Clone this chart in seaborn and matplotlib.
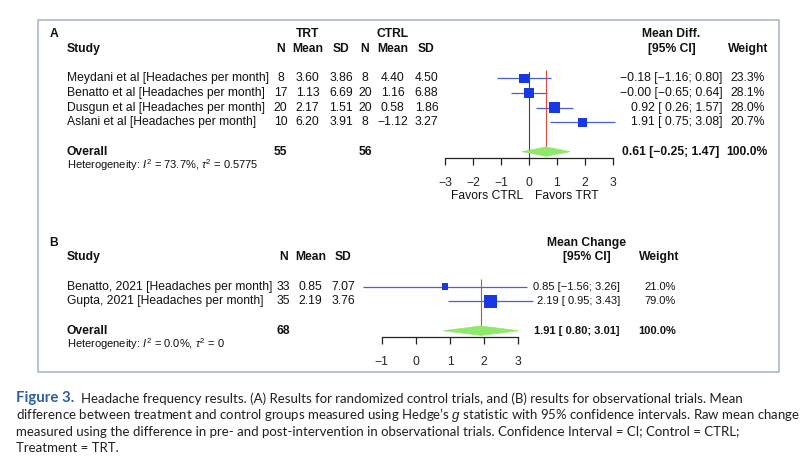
import numpy as np
import pandas as pd
import matplotlib
matplotlib.use("Agg")
import matplotlib.pyplot as plt
import matplotlib.transforms as mtransforms
from matplotlib.patches import Rectangle, Polygon
import seaborn as sns

# ---------------- Data: panel A (randomized control trials) ----------------
a_studies = ["Meydani et al [Headaches per month]",
             "Benatto et al [Headaches per month]",
             "Dusgun et al [Headaches per month]",
             "Aslani et al [Headaches per month]"]
a_n_trt = [8, 17, 20, 10]
a_mean_trt = [3.60, 1.13, 2.17, 6.20]
a_sd_trt = [3.86, 6.69, 1.51, 3.91]
a_n_ctrl = [8, 20, 20, 8]
a_mean_ctrl = [4.40, 1.16, 0.58, -1.12]
a_sd_ctrl = [4.50, 6.88, 1.86, 3.27]
a_est = [-0.18, -0.00, 0.92, 1.91]
a_lo = [-1.16, -0.65, 0.26, 0.75]
a_hi = [0.80, 0.64, 1.57, 3.08]
a_weight = [23.3, 28.1, 28.0, 20.7]
a_overall = [0.61, -0.25, 1.47]          # estimate, lower, upper
a_total_n = [55, 56]
a_het = r"Heterogeneity: $I^2$ = 73.7%, $\tau^2$ = 0.5775"
a_ticks = [-3, -2, -1, 0, 1, 2, 3]

# ---------------- Data: panel B (observational trials) ----------------
b_studies = ["Benatto, 2021 [Headaches per month]",
             "Gupta, 2021 [Headaches per month]"]
b_n = [33, 35]
b_mean = [0.85, 2.19]
b_sd = [7.07, 3.76]
b_est = [0.85, 2.19]
b_lo = [-1.56, 0.95]
b_hi = [3.26, 3.43]
b_weight = [21.0, 79.0]
b_overall = [1.91, 0.80, 3.01]
b_total_n = [68]
b_het = r"Heterogeneity: $I^2$ = 0.0%, $\tau^2$ = 0"
b_ticks = [-1, 0, 1, 2, 3]

caption_lines = [
    "Headache frequency results. (A) Results for randomized control trials, and (B) results for observational trials. Mean",
    "difference between treatment and control groups measured using Hedge\u2019s $\\mathit{g}$ statistic with 95% confidence intervals. Raw mean change",
    "measured using the difference in pre- and post-intervention in observational trials. Confidence Interval = CI; Control = CTRL;",
    "Treatment = TRT.",
]

# ---------------- Style ----------------
sns.set_style("white")
plt.rcParams["font.family"] = ["Liberation Sans", "DejaVu Sans"]
plt.rcParams["mathtext.fontset"] = "custom"
plt.rcParams["mathtext.rm"] = "Liberation Sans"
plt.rcParams["mathtext.it"] = "Liberation Sans:italic"
plt.rcParams["mathtext.bf"] = "Liberation Sans:bold"

W, H = 812, 472
FS = 8.7
FS_HET = 8.0
FS_B = 8.0          # panel B right-hand columns are rendered narrower
ROW = 14.67
SQ_COL = "#1738e3"
CI_COL = "#4a5fd4"
RED = "#d9493f"
DIAM = "#8fe86c"

fig = plt.figure(figsize=(W / 100, H / 100), dpi=100)
fig.patch.set_facecolor("white")

pix = mtransforms.Affine2D().scale(1 / W, 1 / H) + fig.transFigure


def fmt(v):
    return f"{v:.2f}".replace("-", "\u2212")


def ci_txt(e, l, h):
    return fmt(e) + " [" + f"{l:5.2f}".replace("-", "\u2212") + "; " + fmt(h) + "]"


def forest_axes(x_left, x_right, xmin, xmax, y_row0, row_top, row_bottom):
    top_px = y_row0 + row_top * ROW
    bot_px = y_row0 + row_bottom * ROW
    ax = fig.add_axes([x_left / W, 1 - bot_px / H, (x_right - x_left) / W, (bot_px - top_px) / H])
    ax.set_xlim(xmin, xmax)
    ax.set_ylim(row_bottom, row_top)
    ax.patch.set_alpha(0)
    for s in ["top", "left", "right"]:
        ax.spines[s].set_visible(False)
    ax.spines["bottom"].set_color("#222222")
    ax.spines["bottom"].set_linewidth(0.9)
    ax.set_yticks([])
    ax.tick_params(axis="x", direction="out", length=4.8, width=0.9, color="#222222",
                   pad=8.5, labelsize=FS, bottom=True)
    return ax


def T(ax, x_px, row, s, ha="left", bold=False, size=FS, **kw):
    tr = mtransforms.blended_transform_factory(pix, ax.transData)
    ax.text(x_px, row, s, transform=tr, ha=ha, va="center", fontsize=size,
            fontweight="bold" if bold else "normal", color="#111111", clip_on=False, **kw)


def draw_forest(ax, est, lo, hi, weight, overall, k_area, overall_row):
    rows = list(range(len(est)))
    df = pd.DataFrame({"est": est, "row": rows, "w": weight})
    ax.hlines(rows, lo, hi, color=CI_COL, lw=0.9, zorder=2, clip_on=False)
    wmin, wmax = min(weight), max(weight)
    sns.scatterplot(data=df, x="est", y="row", size="w", size_norm=(wmin, wmax),
                    sizes=(k_area * wmin, k_area * wmax), marker="s", color=SQ_COL,
                    linewidth=0, legend=False, ax=ax, zorder=3, clip_on=False)
    e, l, h = overall
    hh = 0.32
    ax.add_patch(Polygon([(l, overall_row), (e, overall_row - hh), (h, overall_row), (e, overall_row + hh)],
                         closed=True, facecolor=DIAM, edgecolor=DIAM, lw=0.5, zorder=3, clip_on=False))
    ax.vlines(e, -0.55, overall_row - hh, color=RED, lw=0.8, zorder=2.5, clip_on=False)
    ax.set_xlabel("")
    ax.set_ylabel("")


# ---------------- Panel A ----------------
A_Y0 = 78.3
a_rows = list(range(len(a_studies)))
a_ov = len(a_studies) + 1
axA = forest_axes(445.3, 612.7, -3, 3, A_Y0, -0.45, a_ov + 0.45)
axA.axvline(0, color="#444444", lw=0.8, zorder=1)
draw_forest(axA, a_est, a_lo, a_hi, a_weight, a_overall, 2.0, a_ov)
axA.set_xticks(a_ticks)
axA.set_xticklabels([str(t).replace("-", "\u2212") for t in a_ticks])
axA.set_ylim(a_ov + 0.45, -0.45)
axA.text(-0.2, a_ov + 3.0, "Favors CTRL", ha="right", va="center", fontsize=FS, color="#111111")
axA.text(0.2, a_ov + 3.0, "Favors TRT", ha="left", va="center", fontsize=FS, color="#111111")

T(axA, 49.3, -3, "A", bold=True)
T(axA, 66.7, -2, "Study", bold=True)
T(axA, 307.5, -3, "TRT", ha="center", bold=True)
T(axA, 392.5, -3, "CTRL", ha="center", bold=True)
a_cols = [280.5, 307.5, 341.0, 365.0, 392.5, 426.5]
for x, lab in zip(a_cols, ["N", "Mean", "SD", "N", "Mean", "SD"]):
    T(axA, x, -2, lab, ha="center", bold=True)
T(axA, 671.5, -3, "Mean Diff.", ha="center", bold=True)
T(axA, 671.5, -2, "[95% CI]", ha="center", bold=True)
T(axA, 748.0, -2, "Weight", ha="center", bold=True)
for i in a_rows:
    T(axA, 66.7, i, a_studies[i])
    vals = [str(a_n_trt[i]), fmt(a_mean_trt[i]), fmt(a_sd_trt[i]),
            str(a_n_ctrl[i]), fmt(a_mean_ctrl[i]), fmt(a_sd_ctrl[i])]
    for x, v in zip(a_cols, vals):
        T(axA, x, i, v, ha="center")
    T(axA, 722.5, i, ci_txt(a_est[i], a_lo[i], a_hi[i]), ha="right")
    T(axA, 765.0, i, f"{a_weight[i]:.1f}%", ha="right")
T(axA, 66.7, a_ov, "Overall", bold=True)
T(axA, a_cols[0], a_ov, str(a_total_n[0]), ha="center", bold=True)
T(axA, a_cols[3], a_ov, str(a_total_n[1]), ha="center", bold=True)
T(axA, 719.5, a_ov, ci_txt(*a_overall), ha="right", bold=True)
T(axA, 768.0, a_ov, "100.0%", ha="right", bold=True)
T(axA, 66.7, a_ov + 0.95, a_het, size=FS_HET)

# ---------------- Panel B ----------------
B_Y0 = 286.7
b_rows = list(range(len(b_studies)))
b_ov = len(b_studies) + 1
axB = forest_axes(381.7, 518.3, -1, 3, B_Y0, -0.45, b_ov + 0.45)
draw_forest(axB, b_est, b_lo, b_hi, b_weight, b_overall, 1.09, b_ov)
axB.set_xticks(b_ticks)
axB.set_xticklabels([str(t).replace("-", "\u2212") for t in b_ticks])
axB.set_ylim(b_ov + 0.45, -0.45)

T(axB, 49.3, -3, "B", bold=True)
T(axB, 66.7, -2, "Study", bold=True)
b_cols = [283.3, 310.7, 343.0]
for x, lab in zip(b_cols, ["N", "Mean", "SD"]):
    T(axB, x, -2, lab, ha="center", bold=True)
T(axB, 586.5, -3, "Mean Change", ha="center", bold=True)
T(axB, 586.5, -2, "[95% CI]", ha="center", bold=True)
T(axB, 659.5, -2, "Weight", ha="center", bold=True)
for i in b_rows:
    T(axB, 66.7, i, b_studies[i])
    for x, v in zip(b_cols, [str(b_n[i]), fmt(b_mean[i]), fmt(b_sd[i])]):
        T(axB, x, i, v, ha="center")
    T(axB, 620.0, i, ci_txt(b_est[i], b_lo[i], b_hi[i]), ha="right", size=FS_B)
    T(axB, 676.0, i, f"{b_weight[i]:.1f}%", ha="right", size=FS_B)
T(axB, 66.7, b_ov, "Overall", bold=True)
T(axB, b_cols[0], b_ov, str(b_total_n[0]), ha="center", bold=True)
T(axB, 620.0, b_ov, ci_txt(*b_overall), ha="right", bold=True, size=FS_B)
T(axB, 676.0, b_ov, "100.0%", ha="right", bold=True, size=FS_B)
T(axB, 66.7, b_ov + 0.92, b_het, size=FS_HET)

# ---------------- Frame ----------------
fig.add_artist(Rectangle((38 / W, 1 - 372 / H), (779 - 38) / W, (372 - 20) / H,
                         transform=fig.transFigure, fill=False, ec="#a9b9cb", lw=1.2))

# ---------------- Caption ----------------
CAP_FONT = ["Lato", "DejaVu Sans"]
CAP_FS = 9.5
base = [401.7, 418.7, 435.5, 452.3]
t1 = fig.text(16 / W, 1 - base[0] / H, "Figure 3.", fontfamily=CAP_FONT, fontsize=10.8,
              fontweight="bold", color="#2e5fa3", va="baseline", ha="left")
axA.annotate(caption_lines[0], xy=(1, 0), xycoords=t1, xytext=(5, 0), textcoords="offset points",
             ha="left", va="bottom", fontfamily=CAP_FONT, fontsize=CAP_FS, color="#231f20",
             annotation_clip=False)
for y, line in zip(base[1:], caption_lines[1:]):
    fig.text(16 / W, 1 - y / H, line, fontfamily=CAP_FONT, fontsize=CAP_FS, color="#231f20",
             va="baseline", ha="left")

fig.savefig("out.png", dpi=100, facecolor="white")
